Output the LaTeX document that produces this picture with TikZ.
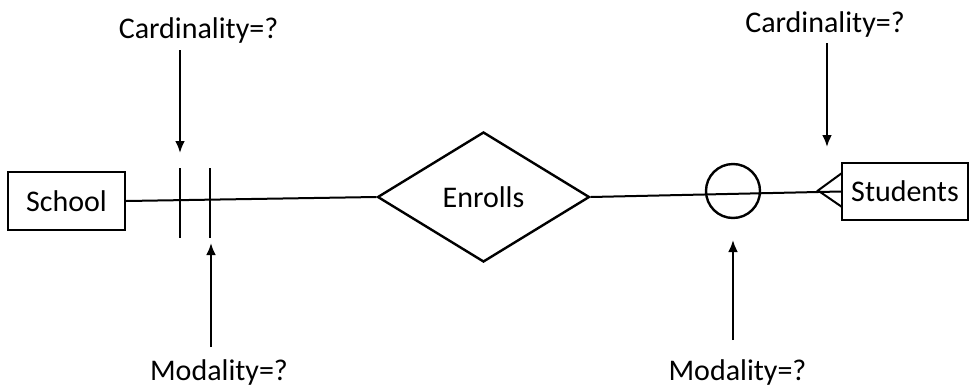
\documentclass[tikz,border=0pt]{standalone}
\usepackage{fontspec}
\setmainfont{Carlito}
\usepackage{tikz}
\usetikzlibrary{shapes,arrows,arrows.meta,positioning,calc}

\begin{document}
\begin{tikzpicture}[x=1pt,y=-1pt,font=\fontsize{30}{36}\selectfont]
            \useasboundingbox (0,0) rectangle (971,391);

            % entities and relationship
            \node[draw, line width=2.4pt, minimum width=117pt, minimum height=58pt, inner sep=0pt] (School) at (66.5,201) {School};
            \node[draw, diamond, line width=2.4pt, minimum width=212pt, minimum height=130pt, inner sep=0pt] (Enrolls) at (483.5,197) {Enrolls};
            \node[draw, line width=2.4pt, minimum width=126pt, minimum height=57pt, inner sep=0pt] (Students) at (905,191.5) {Students};

            % connecting lines
            \draw[line width=2pt] (School.east) -- (Enrolls.west);
            \draw[line width=2pt] (Enrolls.east) -- (Students.west);

            % cardinality one (two bars)
            \coordinate (b1t) at (180,168);
            \coordinate (b1b) at (180,238);
            \coordinate (b2t) at (210,168);
            \coordinate (b2b) at (210,238);
            \draw[line width=2.2pt] (b1t) -- (b1b);
            \draw[line width=2.2pt] (b2t) -- (b2b);

            % modality zero (circle)
            \node[draw, circle, line width=2.4pt, minimum size=54pt, inner sep=0pt] (O) at (733,191) {};

            % crow's foot
            \coordinate (cf) at (818,190.5);
            \coordinate (cfa) at (842,173);
            \coordinate (cfb) at (842,207);
            \draw[line width=2pt] (cfa) -- (cf) -- (cfb);

            % labels
            \node[anchor=base] (card1) at (198.5,38) {Cardinality=?};
            \node[anchor=base] (card2) at (825,32) {Cardinality=?};
            \node[anchor=base] (mod1) at (219,380) {Modality=?};
            \node[anchor=base] (mod2) at (737.5,380) {Modality=?};

            % arrows
            \coordinate (a1s) at (180,50);
            \coordinate (a1e) at (180,153);
            \coordinate (a2s) at (827,43);
            \coordinate (a2e) at (827,147);
            \coordinate (a3s) at (211,347);
            \coordinate (a3e) at (211,243);
            \coordinate (a4s) at (733,340);
            \coordinate (a4e) at (733,240);
            \draw[-{Latex[length=12pt,width=10pt]}, line width=2.6pt] (a1s) -- (a1e);
            \draw[-{Latex[length=12pt,width=10pt]}, line width=2.6pt] (a2s) -- (a2e);
            \draw[-{Latex[length=12pt,width=10pt]}, line width=2.6pt] (a3s) -- (a3e);
            \draw[-{Latex[length=12pt,width=10pt]}, line width=2.6pt] (a4s) -- (a4e);
        \end{tikzpicture}
\end{document}
